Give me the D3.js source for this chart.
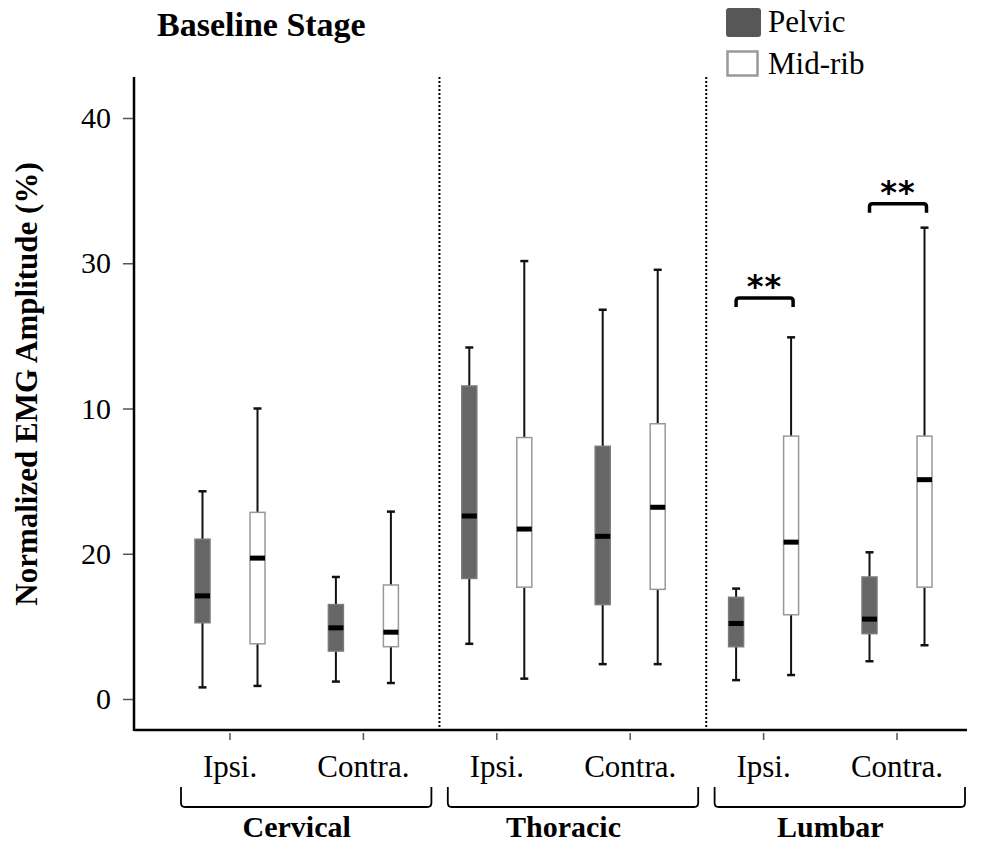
<!DOCTYPE html>
<html>
<head>
<meta charset="utf-8">
<script src="https://cdn.jsdelivr.net/npm/d3@7"></script>
<style>
  body { margin: 0; background: #fff; }
  svg { display: block; }
</style>
</head>
<body>
<div id="chart"></div>
<script>
// regions / sides / series
const regions = ["Cervical", "Thoracic", "Lumbar"];
const sides = ["Ipsi.", "Contra."];
const series = ["Pelvic", "Mid-rib"];

// five-number summaries, order: Cervical Ipsi, Cervical Contra, Thoracic Ipsi, Thoracic Contra, Lumbar Ipsi, Lumbar Contra
const pelvicMin = [0.8, 1.2, 3.8, 2.4, 1.3, 2.6];
const pelvicQ1 = [5.25, 3.3, 8.3, 6.5, 3.6, 4.5];
const pelvicMedian = [7.1, 4.9, 12.6, 11.2, 5.2, 5.5];
const pelvicQ3 = [11.0, 6.5, 21.55, 17.4, 7.0, 8.4];
const pelvicMax = [14.3, 8.4, 24.2, 26.8, 7.6, 10.1];

const midribMin = [0.9, 1.1, 1.4, 2.4, 1.65, 3.7];
const midribQ1 = [3.8, 3.6, 7.7, 7.55, 5.8, 7.7];
const midribMedian = [9.7, 4.6, 11.7, 13.2, 10.8, 15.1];
const midribQ3 = [12.85, 7.85, 18.0, 18.95, 18.1, 18.1];
const midribMax = [20.0, 12.9, 30.15, 29.55, 24.9, 32.45];

// significance brackets
const sigIndex = [4, 5];
const sigLevel = [27.6, 34.1];
const sigLabel = ["**", "**"];

// y ticks (labels as printed in the figure)
const yTicks = [0, 10, 20, 30, 40];
const yTickLabels = ["0", "20", "10", "30", "40"];

const width = 981, height = 844;
const serif = "'Liberation Serif', 'Times New Roman', serif";

const svg = d3.select("#chart").append("svg")
  .attr("width", width)
  .attr("height", height);

svg.append("rect").attr("width", width).attr("height", height).attr("fill", "#fff");

const keys = [];
regions.forEach(function(r) {
  sides.forEach(function(s) { keys.push(r + "|" + s); });
});

const x = d3.scalePoint().domain(keys).range([230, 897]);
const step = x.step();
const y = d3.scaleLinear().domain([0, 40]).range([699, 118]);

const axisX = 134, axisTop = 77, axisBottom = 730;

// boxes
const boxes = [];
keys.forEach(function(k, i) {
  boxes.push({key: k, s: 0, min: pelvicMin[i], q1: pelvicQ1[i], med: pelvicMedian[i], q3: pelvicQ3[i], max: pelvicMax[i]});
  boxes.push({key: k, s: 1, min: midribMin[i], q1: midribQ1[i], med: midribMedian[i], q3: midribQ3[i], max: midribMax[i]});
});
const offset = 27.5, boxW = 15, capW = 8;
function cx(d) { return x(d.key) + (d.s === 0 ? -offset : offset); }

// separators
d3.range(1, regions.length).forEach(function(g) {
  const sx = x(keys[g * 2 - 1]) + step * 0.57;
  svg.append("line")
    .attr("x1", sx).attr("x2", sx)
    .attr("y1", axisTop).attr("y2", axisBottom)
    .attr("stroke", "#000")
    .attr("stroke-width", 2)
    .attr("stroke-dasharray", "2,2");
});

const bx = svg.append("g");
const g = bx.selectAll("g.box").data(boxes).enter().append("g");

g.append("line")
  .attr("x1", cx).attr("x2", cx)
  .attr("y1", function(d) { return y(d.max); })
  .attr("y2", function(d) { return y(d.q3); })
  .attr("stroke", "#111").attr("stroke-width", 2);
g.append("line")
  .attr("x1", cx).attr("x2", cx)
  .attr("y1", function(d) { return y(d.q1); })
  .attr("y2", function(d) { return y(d.min); })
  .attr("stroke", "#111").attr("stroke-width", 2);
g.append("line")
  .attr("x1", function(d) { return cx(d) - capW / 2; })
  .attr("x2", function(d) { return cx(d) + capW / 2; })
  .attr("y1", function(d) { return y(d.max); })
  .attr("y2", function(d) { return y(d.max); })
  .attr("stroke", "#111").attr("stroke-width", 2.5);
g.append("line")
  .attr("x1", function(d) { return cx(d) - capW / 2; })
  .attr("x2", function(d) { return cx(d) + capW / 2; })
  .attr("y1", function(d) { return y(d.min); })
  .attr("y2", function(d) { return y(d.min); })
  .attr("stroke", "#111").attr("stroke-width", 2.5);
g.append("rect")
  .attr("x", function(d) { return cx(d) - boxW / 2; })
  .attr("y", function(d) { return y(d.q3); })
  .attr("width", boxW)
  .attr("height", function(d) { return y(d.q1) - y(d.q3); })
  .attr("fill", function(d) { return d.s === 0 ? "#666" : "#fff"; })
  .attr("stroke", function(d) { return d.s === 0 ? "#7a7a7a" : "#999"; })
  .attr("stroke-width", 1.5);
g.append("rect")
  .attr("x", function(d) { return cx(d) - boxW / 2; })
  .attr("y", function(d) { return y(d.med) - 2.5; })
  .attr("width", boxW)
  .attr("height", 5)
  .attr("fill", "#000");

// axes
const yAxis = svg.append("g")
  .attr("transform", "translate(" + (axisX - 1) + ",0)")
  .call(d3.axisLeft(y).tickValues(yTicks)
    .tickFormat(function(d, i) { return yTickLabels[i]; })
    .tickSize(10).tickPadding(12));
yAxis.select(".domain").remove();
yAxis.selectAll(".tick line").attr("stroke", "#555").attr("stroke-width", 1.5);
yAxis.selectAll(".tick text")
  .attr("font-family", serif).attr("font-size", 30).attr("fill", "#000");

svg.append("line")
  .attr("x1", axisX).attr("x2", axisX)
  .attr("y1", axisTop).attr("y2", axisBottom + 1)
  .attr("stroke", "#000").attr("stroke-width", 2.5);
svg.append("line")
  .attr("x1", axisX).attr("x2", x(keys[keys.length - 1]) + 70)
  .attr("y1", axisBottom).attr("y2", axisBottom)
  .attr("stroke", "#000").attr("stroke-width", 2.5);

svg.selectAll("line.xtick").data(keys).enter().append("line")
  .attr("x1", function(d) { return x(d); })
  .attr("x2", function(d) { return x(d); })
  .attr("y1", axisBottom + 3).attr("y2", axisBottom + 10)
  .attr("stroke", "#555").attr("stroke-width", 1.5);

svg.selectAll("text.xlab").data(keys).enter().append("text")
  .attr("x", function(d) { return x(d); })
  .attr("y", 777)
  .attr("text-anchor", "middle")
  .attr("font-family", serif).attr("font-size", 31)
  .text(function(d) { return d.split("|")[1]; });

// region brackets
regions.forEach(function(r, i) {
  const x0 = x(keys[i * 2]) - 49, x1 = x(keys[i * 2 + 1]) + 68;
  const top = 787, bot = 807, rr = 4;
  svg.append("path")
    .attr("d", "M" + x0 + "," + top + "V" + (bot - rr) + "Q" + x0 + "," + bot + " " + (x0 + rr) + "," + bot +
      "H" + (x1 - rr) + "Q" + x1 + "," + bot + " " + x1 + "," + (bot - rr) + "V" + top)
    .attr("fill", "none").attr("stroke", "#000").attr("stroke-width", 1.8);
  svg.append("text")
    .attr("x", (x(keys[i * 2]) + x(keys[i * 2 + 1])) / 2)
    .attr("y", 837)
    .attr("text-anchor", "middle")
    .attr("font-family", serif).attr("font-size", 30).attr("font-weight", "bold")
    .text(r);
});

// significance
sigIndex.forEach(function(k, i) {
  const x0 = x(keys[k]) - offset, x1 = x(keys[k]) + offset + 2;
  const top = y(sigLevel[i]), leg = 9, rr = 3;
  svg.append("path")
    .attr("d", "M" + x0 + "," + (top + leg) + "V" + (top + rr) + "Q" + x0 + "," + top + " " + (x0 + rr) + "," + top +
      "H" + (x1 - rr) + "Q" + x1 + "," + top + " " + x1 + "," + (top + rr) + "V" + (top + leg))
    .attr("fill", "none").attr("stroke", "#000").attr("stroke-width", 3.5);
  svg.append("text")
    .attr("x", (x0 + x1) / 2)
    .attr("y", top - 1)
    .attr("text-anchor", "middle")
    .attr("font-family", "'DejaVu Sans', sans-serif").attr("font-size", 32)
    .attr("font-weight", "bold")
    .attr("letter-spacing", 1)
    .text(sigLabel[i]);
});

// title and y label
svg.append("text")
  .attr("x", 157).attr("y", 36)
  .attr("font-family", serif).attr("font-size", 34).attr("font-weight", "bold")
  .text("Baseline Stage");

svg.append("text")
  .attr("transform", "translate(37,384) rotate(-90)")
  .attr("text-anchor", "middle")
  .attr("font-family", serif).attr("font-size", 31).attr("font-weight", "bold")
  .text("Normalized EMG Amplitude (%)");

// legend
svg.append("rect")
  .attr("x", 726).attr("y", 8).attr("width", 35).attr("height", 29).attr("rx", 3)
  .attr("fill", "#575757");
svg.append("rect")
  .attr("x", 727.5).attr("y", 51.5).attr("width", 30).attr("height", 24)
  .attr("fill", "#fff").attr("stroke", "#999").attr("stroke-width", 2.5);
svg.selectAll("text.leg").data(series).enter().append("text")
  .attr("x", 768)
  .attr("y", function(d, i) { return 32 + i * 42; })
  .attr("font-family", serif).attr("font-size", 31)
  .text(function(d) { return d; });
</script>
</body>
</html>
